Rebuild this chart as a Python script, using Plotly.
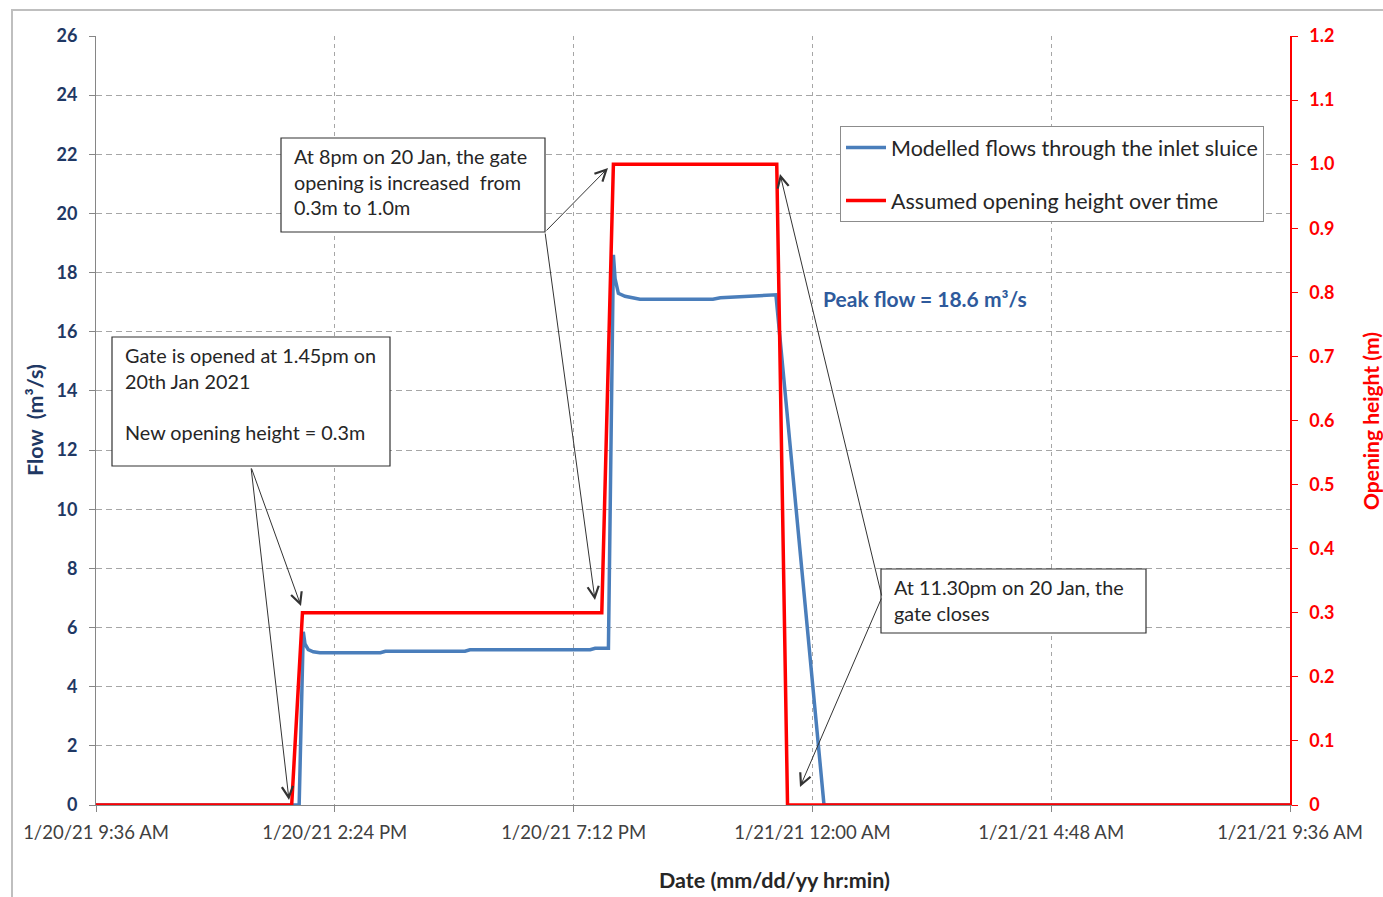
import plotly.graph_objects as go

# ---- data -------------------------------------------------------------
flow_time = [
    "2021-01-20 09:36", "2021-01-20 13:41", "2021-01-20 13:46", "2021-01-20 13:48",
    "2021-01-20 13:52", "2021-01-20 13:58", "2021-01-20 14:06", "2021-01-20 15:19",
    "2021-01-20 15:25", "2021-01-20 17:01", "2021-01-20 17:07", "2021-01-20 19:32",
    "2021-01-20 19:38", "2021-01-20 19:54", "2021-01-20 20:00", "2021-01-20 20:02",
    "2021-01-20 20:06", "2021-01-20 20:14", "2021-01-20 20:32", "2021-01-20 22:00",
    "2021-01-20 22:09", "2021-01-20 22:39", "2021-01-20 23:00", "2021-01-20 23:16",
    "2021-01-21 00:14", "2021-01-21 09:36",
]
flow_value = [
    0, 0, 5.86, 5.45,
    5.25, 5.18, 5.15, 5.15,
    5.2, 5.2, 5.25, 5.25,
    5.3, 5.3, 18.6, 17.8,
    17.3, 17.2, 17.1, 17.1,
    17.15, 17.2, 17.25, 17.25,
    0, 0,
]

gate_time = [
    "2021-01-20 09:36", "2021-01-20 13:32", "2021-01-20 13:45", "2021-01-20 19:46",
    "2021-01-20 20:00", "2021-01-20 23:17", "2021-01-20 23:30", "2021-01-21 09:36",
]
gate_height = [0, 0, 0.3, 0.3, 1.0, 1.0, 0, 0]

x_ticks = [
    "2021-01-20 09:36", "2021-01-20 14:24", "2021-01-20 19:12",
    "2021-01-21 00:00", "2021-01-21 04:48", "2021-01-21 09:36",
]
x_tick_labels = [
    "1/20/21 9:36 AM", "1/20/21 2:24 PM", "1/20/21 7:12 PM",
    "1/21/21 12:00 AM", "1/21/21 4:48 AM", "1/21/21 9:36 AM",
]
flow_ticks = list(range(0, 27, 2))
height_ticks = [i / 10 for i in range(13)]
height_tick_labels = ["0"] + [f"{v:.1f}" for v in height_ticks[1:]]

# ---- layout geometry (pixels) -----------------------------------------
W, H = 1383, 897
L, R, T, B = 96, 1290, 36, 805


def px(x):
    return (x - L) / (R - L)


def py(y):
    return (B - y) / (B - T)


FONT = "Lato, 'Open Sans', sans-serif"
BLUE = "#4A7EBB"
RED = "#FF0000"
NAVY = "#1F3864"
TEXT = "#262626"
GRID = "#A6A6A6"

fig = go.Figure()
fig.add_trace(go.Scatter(
    x=flow_time, y=flow_value, mode="lines",
    name="Modelled flows through the inlet sluice",
    line=dict(color=BLUE, width=3.5), legendgroup="a", yaxis="y",
))
fig.add_trace(go.Scatter(
    x=gate_time, y=gate_height, mode="lines",
    name="Assumed opening height over time",
    line=dict(color=RED, width=3.5), legendgroup="b", yaxis="y2",
))

fig.update_layout(
    width=W, height=H,
    margin=dict(l=L, r=W - R, t=T, b=H - B),
    paper_bgcolor="white", plot_bgcolor="white",
    font=dict(family=FONT, color=TEXT),
    xaxis=dict(
        type="date", range=[x_ticks[0], x_ticks[-1]],
        tickvals=x_ticks, ticktext=x_tick_labels,
        tickfont=dict(size=18.5, color="#404040"),
        ticklabelstandoff=5,
        showline=True, linecolor="#868686", linewidth=1,
        ticks="outside", ticklen=6, tickcolor="#868686",
        showgrid=True, gridcolor=GRID, griddash="4px,4px", gridwidth=1,
        zeroline=False,
    ),
    yaxis=dict(
        range=[0, 26], tickvals=flow_ticks,
        tickfont=dict(size=18, color=NAVY, family=FONT, weight="bold"),
        ticklabelstandoff=8,
        showline=True, linecolor="#868686", linewidth=1,
        ticks="outside", ticklen=6, tickcolor="#868686",
        showgrid=True, gridcolor=GRID, griddash="6px,4px", gridwidth=1,
        zeroline=False,
    ),
    yaxis2=dict(
        overlaying="y", side="right", range=[0, 1.2],
        tickvals=height_ticks, ticktext=height_tick_labels,
        tickfont=dict(size=18, color=RED, family=FONT, weight="bold"),
        ticklabelstandoff=8,
        showline=True, linecolor=RED, linewidth=1.5,
        ticks="outside", ticklen=6, tickcolor=RED,
        showgrid=False, zeroline=False,
    ),
    showlegend=True,
    legend=dict(
        x=px(840), y=py(126), xanchor="left", yanchor="top",
        bgcolor="white", bordercolor="#8C8C8C", borderwidth=1,
        font=dict(size=21.5, color=TEXT, family=FONT),
        tracegroupgap=22, itemwidth=40,
    ),
)

# outer chart frame
fig.add_shape(type="rect", xref="paper", yref="paper",
              x0=px(12), x1=1.3, y0=-0.4, y1=py(10),
              line=dict(color="#BFBFBF", width=2), layer="below")

# callout boxes
boxes = [
    (112, 390, 337, 466, "Gate is opened at 1.45pm on<br>20th Jan 2021<br> <br>New opening height = 0.3m"),
    (281, 545, 138, 232, "At 8pm on 20 Jan, the gate<br>opening is increased  from<br>0.3m to 1.0m"),
    (881, 1146, 569, 633, "At 11.30pm on 20 Jan, the<br>gate closes"),
]
for x0, x1, y0, y1, txt in boxes:
    fig.add_shape(type="rect", xref="paper", yref="paper",
                  x0=px(x0), x1=px(x1), y0=py(y1), y1=py(y0),
                  line=dict(color="#333333", width=1.2),
                  fillcolor="white", layer="above")
    fig.add_annotation(xref="paper", yref="paper",
                       x=px(x0 + 11), y=py(y0 + 4),
                       xanchor="left", yanchor="top", align="left",
                       text=txt, showarrow=False,
                       font=dict(size=19.8, color=TEXT, family=FONT))

# callout arrows: (head x, head y, tail x, tail y)
arrows = [
    (289, 800, 251, 467),
    (301, 606, 251, 467),
    (608, 168, 545, 232),
    (595, 600, 545, 232),
    (780, 174, 882, 597),
    (800, 787, 882, 597),
]
for hx, hy, tx, ty in arrows:
    fig.add_annotation(xref="paper", yref="paper", x=px(hx), y=py(hy),
                       ax=tx - hx, ay=ty - hy, axref="pixel", ayref="pixel",
                       text="", showarrow=True, arrowhead=5, arrowsize=2.2,
                       arrowwidth=1, arrowcolor="#333333")

# peak flow label
fig.add_annotation(xref="paper", yref="paper", x=px(821), y=py(298),
                   xanchor="left", yanchor="middle", showarrow=False,
                   text="<b>Peak flow = 18.6 m³/s</b>",
                   font=dict(size=21, color="#2E5A9C", family=FONT))

# axis titles
fig.add_annotation(xref="paper", yref="paper", x=px(774), y=py(880),
                   xanchor="center", yanchor="middle", showarrow=False,
                   text="<b>Date (mm/dd/yy hr:min)</b>",
                   font=dict(size=21.5, color=TEXT, family=FONT))
fig.add_annotation(xref="paper", yref="paper", x=px(35), y=py(420),
                   xanchor="center", yanchor="middle", showarrow=False,
                   textangle=-90, text="<b>Flow  (m³/s)</b>",
                   font=dict(size=21.5, color=NAVY, family=FONT))
fig.add_annotation(xref="paper", yref="paper", x=px(1370), y=py(421),
                   xanchor="center", yanchor="middle", showarrow=False,
                   textangle=-90, text="<b>Opening height (m)</b>",
                   font=dict(size=21, color=RED, family=FONT))

fig.write_html("out.html")
